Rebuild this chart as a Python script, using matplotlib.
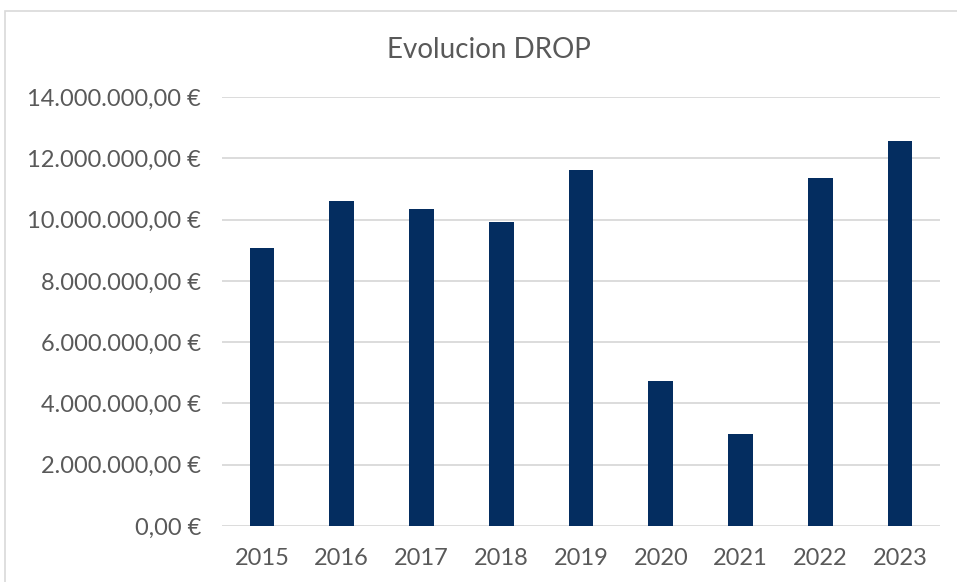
import matplotlib.pyplot as plt
from matplotlib.patches import Rectangle
from matplotlib.ticker import FuncFormatter

years = ["2015", "2016", "2017", "2018", "2019", "2020", "2021", "2022", "2023"]
drop = [9060000, 10610000, 10360000, 9910000, 11610000, 4730000, 3000000, 11370000, 12560000]

plt.rcParams['font.family'] = ['Lato', 'DejaVu Sans']

def euro(v, pos):
    s = f"{v:,.2f}".replace(",", "X").replace(".", ",").replace("X", ".")
    return s + " €"

fig = plt.figure(figsize=(9.57, 5.82), dpi=100)
fig.patches.append(Rectangle((5 / 957, -0.05), 1.1, 1 - 11 / 582 + 0.05,
                             transform=fig.transFigure, fill=False,
                             edgecolor="#d9d9d9", linewidth=1.2))
ax = fig.add_axes([222 / 957, 1 - 526 / 582, 718 / 957, 429 / 582])

ax.bar(range(len(years)), drop, width=0.31, color="#042d60", zorder=3)
ax.set_xlim(-0.5, len(years) - 0.5)
ax.set_ylim(0, 14000000)
ax.set_yticks(range(0, 14000001, 2000000))
ax.yaxis.set_major_formatter(FuncFormatter(euro))
ax.set_xticks(range(len(years)))
ax.set_xticklabels(years)
ax.grid(axis="y", color="#d9d9d9", linewidth=1.3, zorder=0)
for s in ax.spines.values():
    s.set_visible(False)
ax.tick_params(length=0, labelsize=17, colors="#595959")
ax.tick_params(axis="y", pad=15)
ax.tick_params(axis="x", pad=16)
fig.text(489 / 957, 1 - 50 / 582, "Evolucion DROP", fontsize=20, color="#595959",
         ha="center", va="center")

fig.savefig("out.png", dpi=100)
